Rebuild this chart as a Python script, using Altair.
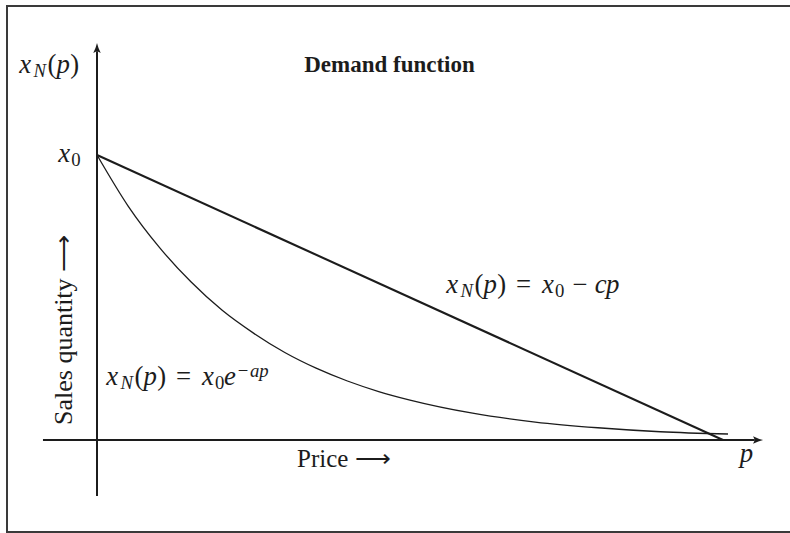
import altair as alt
import pandas as pd

# ---- data -------------------------------------------------------------
# exponential demand x_N(p) = x0 * e^(-a p), read along the price axis
CURVE_PRICE = [0, 0.5, 1, 1.5, 2, 2.5, 3, 3.5, 4, 4.5, 5, 6, 7, 8, 9, 10.08]
CURVE_QTY = [100, 82, 67.5, 55.5, 45.5, 37.5, 30.7, 25.2, 20.7, 17, 14, 9.4, 6.3, 4.3, 2.9, 2.1]

# linear demand x_N(p) = x0 - c p
LINE_PRICE = [0, 10]
LINE_QTY = [100, 0]

# extent of the drawn coordinate axes (data units)
X_AXIS_FROM, X_AXIS_TO = -0.863, 10.507
Y_AXIS_FROM, Y_AXIS_TO = -19.65, 136.4

# ---- geometry ---------------------------------------------------------
W, H = 790, 533
ORIGIN_X, ORIGIN_Y = 97, 440       # pixel position of (0, 0)
PX_PER_P, PX_PER_Q = 62.6, 2.85     # pixels per data unit

xscale = alt.Scale(domain=[-ORIGIN_X / PX_PER_P, (W - ORIGIN_X) / PX_PER_P], nice=False, zero=False)
yscale = alt.Scale(domain=[(ORIGIN_Y - H) / PX_PER_Q, ORIGIN_Y / PX_PER_Q], nice=False, zero=False)

INK = "#1c1c1c"
FONT = "Liberation Serif"


def xy(xf, yf):
    return dict(
        x=alt.X(xf, type="quantitative", scale=xscale, axis=None),
        y=alt.Y(yf, type="quantitative", scale=yscale, axis=None),
    )


curve_df = pd.DataFrame({"p": CURVE_PRICE, "q": CURVE_QTY})
line_df = pd.DataFrame({"p": LINE_PRICE, "q": LINE_QTY})

curve = alt.Chart(curve_df).mark_line(color=INK, strokeWidth=1.3, interpolate="monotone").encode(**xy("p", "q"))
linear = alt.Chart(line_df).mark_line(color=INK, strokeWidth=2.1).encode(**xy("p", "q"))

x_axis = alt.Chart(pd.DataFrame({"a": [X_AXIS_FROM], "b": [X_AXIS_TO], "q": [0]})).mark_rule(
    color=INK, strokeWidth=2
).encode(
    x=alt.X("a:Q", scale=xscale, axis=None), x2="b:Q", y=alt.Y("q:Q", scale=yscale, axis=None)
)
y_axis = alt.Chart(pd.DataFrame({"p": [0], "a": [Y_AXIS_FROM], "b": [Y_AXIS_TO]})).mark_rule(
    color=INK, strokeWidth=2
).encode(
    x=alt.X("p:Q", scale=xscale, axis=None), y=alt.Y("a:Q", scale=yscale, axis=None), y2="b:Q"
)

UP_HEAD = "M0,-1 Q0.12,-0.45 0.45,0.2 Q0.1,0.02 0,0 Q-0.1,0.02 -0.45,0.2 Q-0.12,-0.45 0,-1 Z"
RIGHT_HEAD = "M1,0 Q0.45,0.12 -0.2,0.45 Q-0.02,0.1 0,0 Q-0.02,-0.1 -0.2,-0.45 Q0.45,-0.12 1,0 Z"

up_head = alt.Chart(pd.DataFrame({"p": [0], "q": [Y_AXIS_TO]})).mark_point(
    shape=UP_HEAD, filled=True, size=278, color=INK, opacity=1, strokeWidth=0
).encode(**xy("p", "q"))
right_head = alt.Chart(pd.DataFrame({"p": [X_AXIS_TO], "q": [0]})).mark_point(
    shape=RIGHT_HEAD, filled=True, size=278, color=INK, opacity=1, strokeWidth=0
).encode(**xy("p", "q"))

# ---- frame: open box whose right edge lies beyond the canvas ---------
frame = alt.Chart().mark_rect(fill="transparent", stroke="#3a3a3a", strokeWidth=2).encode(
    x=alt.value(7), x2=alt.value(W + 8), y=alt.value(6), y2=alt.value(H - 1)
)

# ---- math typesetting -------------------------------------------------
# advance widths (em) of the math glyphs, used to space each glyph
ADV = {"x": .572, "N": .803, "p": .503, "c": .433, "e": .466, "a": .529,
       "(": .389, ")": .389, "=": .778, "0": .5, "\u2212": .778}
ITALIC = set("xNpcea")
EM = 25.5
GLYPH = 1.05


def typeset(tokens, x_left, baseline, em=EM):
    rows = []
    x = x_left
    for tok in tokens:
        if tok[0] == " ":
            x += tok[1] * em
            continue
        ch, sc, shift = tok
        w = ADV[ch] * sc * em
        rows.append({"t": ch, "px": x + w / 2, "py": baseline - shift * em,
                     "fs": GLYPH * sc * em, "it": ch in ITALIC})
        x += w
    return rows


XN_P = [("x", 1, 0), ("N", .7, -.15), ("(", 1, 0), ("p", 1, 0), (")", 1, 0)]
REL = [(" ", .278), ("=", 1, 0), (" ", .278)]
X0 = [("x", 1, 0), ("0", .7, -.15)]

glyphs = []
glyphs += typeset(XN_P, 18, 73)
glyphs += typeset(X0, 57, 162)
glyphs += typeset([("p", 1, 0)], 740, 462)
glyphs += typeset(XN_P + REL + X0 + [(" ", .222), ("\u2212", 1, 0), (" ", .222), ("c", 1, 0), ("p", 1, 0)], 445, 293)
glyphs += typeset(XN_P + REL + X0 + [("e", 1, 0), ("\u2212", .7, .33), ("a", .7, .33), ("p", .7, .33)], 105, 385)
gdf = pd.DataFrame(glyphs)


def text_layer(df, **mark):
    return alt.Chart(df).mark_text(font=FONT, color=INK, baseline="alphabetic", **mark).encode(
        x=alt.X("px:Q", scale=None, axis=None),
        y=alt.Y("py:Q", scale=None, axis=None),
        text="t:N",
        size=alt.Size("fs:Q", scale=None, legend=None),
    )


math_it = text_layer(gdf[gdf["it"]], align="center", fontStyle="italic")
math_rm = text_layer(gdf[~gdf["it"]], align="center")

labels = pd.DataFrame([
    {"t": "Price \u27f6", "px": 297, "py": 467, "fs": 25},
])
title = pd.DataFrame([{"t": "Demand function", "px": 389.5, "py": 72, "fs": 23}])
side = pd.DataFrame([{"t": "Sales quantity \u27f6", "px": 72, "py": 425, "fs": 26}])

label_layer = text_layer(labels, align="left")
title_layer = text_layer(title, align="center", fontWeight="bold")
side_layer = text_layer(side, align="left", angle=270)

chart = alt.layer(
    frame, x_axis, y_axis, up_head, right_head, linear, curve,
    math_it, math_rm, label_layer, title_layer, side_layer,
).resolve_scale(x="independent", y="independent").properties(
    width=W, height=H, padding=0, background="white",
    autosize=alt.AutoSizeParams(type="none"),
).configure_view(stroke=None, strokeWidth=0)

chart.save("out.html", embed_options={"renderer": "svg", "actions": False})
